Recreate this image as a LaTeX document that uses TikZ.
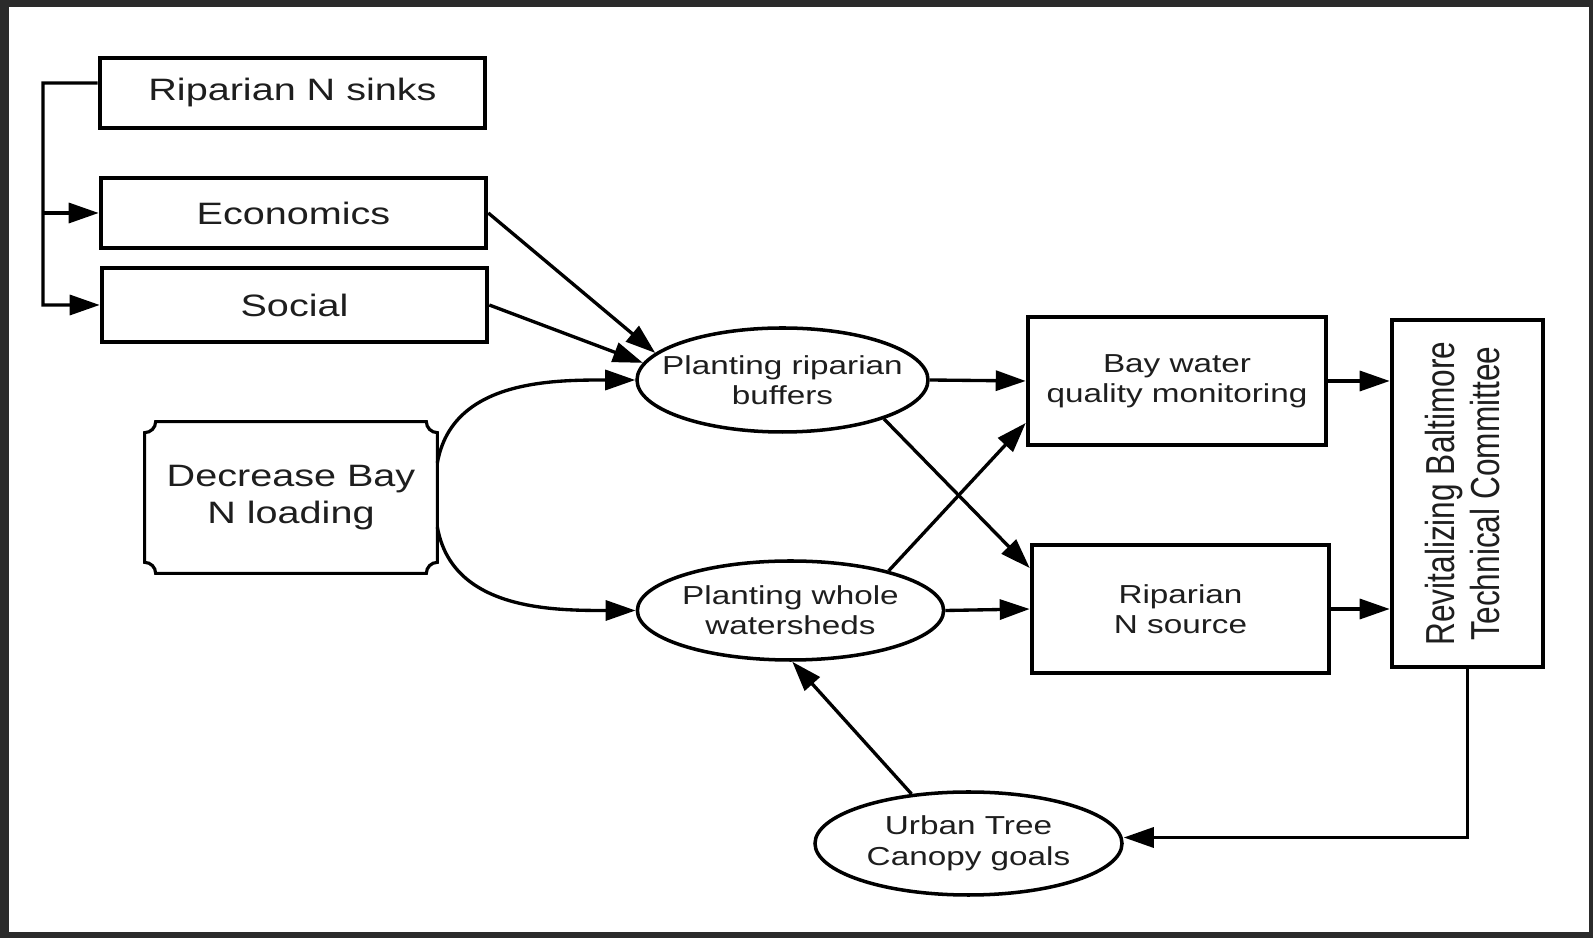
\documentclass[tikz,border=0pt]{standalone}
\usepackage{fontspec}
\setmainfont[FakeStretch=1.28]{Liberation Sans}
\newfontfamily\plainsans{Liberation Sans}
\usetikzlibrary{shapes.geometric, arrows.meta, positioning}
\definecolor{framegray}{RGB}{43,43,43}
\definecolor{inkgray}{RGB}{30,30,30}

\begin{document}
\begin{tikzpicture}[
    box/.style={rectangle, draw, line width=2.6pt, align=center, text=inkgray, font=\fontsize{17.6pt}{21pt}\selectfont},
    smallbox/.style={box, font=\fontsize{14.8pt}{17pt}\selectfont},
    planting/.style={ellipse, draw, line width=2pt, inner sep=0pt, align=center, text=inkgray, font=\fontsize{14.8pt}{17pt}\selectfont},
    arrow/.style={-{Triangle[length=0.6cm, width=0.4cm]}, line width=1.9pt}
]
    % Frame
    \useasboundingbox (0,0) rectangle (31.86,18.76);
    \fill[framegray] (0,0) rectangle (31.86,18.76);
    \fill[white] (0.18,0.12) rectangle (31.78,18.62);

    % Drivers
    \node[box, minimum width=7.7cm, minimum height=1.4cm] (sinks) at (5.85,16.90) {Riparian N sinks};
    \node[box, minimum width=7.7cm, minimum height=1.4cm] (econ) at (5.87,14.50) {Economics};
    \node[box, minimum width=7.7cm, minimum height=1.48cm] (social) at (5.89,12.66) {Social};

    % Goal (box with concave corners)
    \node[minimum width=5.84cm, minimum height=3.02cm, align=center, text=inkgray, font=\fontsize{17.6pt}{21pt}\selectfont] (goal) at (5.82,8.81) {Decrease Bay\\N loading};
    \draw[line width=1.8pt] ([xshift=0.22cm]goal.north west) -- ([xshift=-0.22cm]goal.north east)
        arc[start angle=180, end angle=270, radius=0.22cm] -- ([yshift=0.22cm]goal.south east)
        arc[start angle=90, end angle=180, radius=0.22cm] -- ([xshift=0.22cm]goal.south west)
        arc[start angle=0, end angle=90, radius=0.22cm] -- ([yshift=-0.22cm]goal.north west)
        arc[start angle=270, end angle=360, radius=0.22cm] -- cycle;

    % Actions
    \node[planting, minimum width=5.82cm, minimum height=2.08cm, inner xsep=-0.35cm] (buffers) at (15.65,11.16) {Planting riparian\\buffers};
    \node[planting, minimum width=6.1cm, minimum height=1.98cm] (whole) at (15.81,6.55) {Planting whole\\watersheds};

    % Outcomes
    \node[smallbox, minimum width=5.96cm, minimum height=2.56cm] (monitor) at (23.54,11.14) {Bay water\\quality monitoring};
    \node[smallbox, minimum width=5.94cm, minimum height=2.56cm] (source) at (23.61,6.58) {Riparian\\N source};

    % Committee
    \node[box, minimum width=3.02cm, minimum height=6.94cm] (committee) at (29.35,8.89) {\rotatebox{90}{\scalebox{1}[1.28]{\plainsans\fontsize{18pt}{20pt}\selectfont\begin{tabular}{@{}c@{}}Revitalizing Baltimore\\Technical Committee\end{tabular}}}};

    % Canopy goals
    \node[planting, minimum width=6.14cm, minimum height=2.06cm, font=\fontsize{14.8pt}{17.6pt}\selectfont] (canopy) at (19.37,1.89) {Urban Tree\\Canopy goals};

    % Arrows
    \coordinate (bus) at (0.86,17.10);
    \draw[arrow] ([yshift=0.2cm]sinks.west) -- (bus) |- (social.west);
    \draw[arrow] (bus |- econ.west) -- (econ.west);
    \draw[arrow] (econ.east) -- (buffers.168);
    \draw[arrow] (social.east) -- (buffers.173);
    \draw[arrow] ([yshift=0.69cm]goal.east) to[out=80, in=180] (buffers.west);
    \draw[arrow] ([yshift=-0.59cm]goal.east) to[out=-80, in=180] (whole.west);
    \draw[arrow] (buffers.east) -- (monitor.west);
    \draw[arrow] (buffers.-21) -- ([yshift=0.82cm]source.west);
    \draw[arrow] (whole.22) -- ([yshift=-0.84cm]monitor.west);
    \draw[arrow] (whole.east) -- (source.west);
    \draw[arrow] (monitor.east) -- (monitor.east -| committee.west);
    \draw[arrow] (source.east) -- (source.east -| committee.west);
    \draw[arrow] (committee.south) |- ([yshift=0.12cm]canopy.east);
    \draw[arrow] (canopy.139) -- (whole.-88);
\end{tikzpicture}
\end{document}
